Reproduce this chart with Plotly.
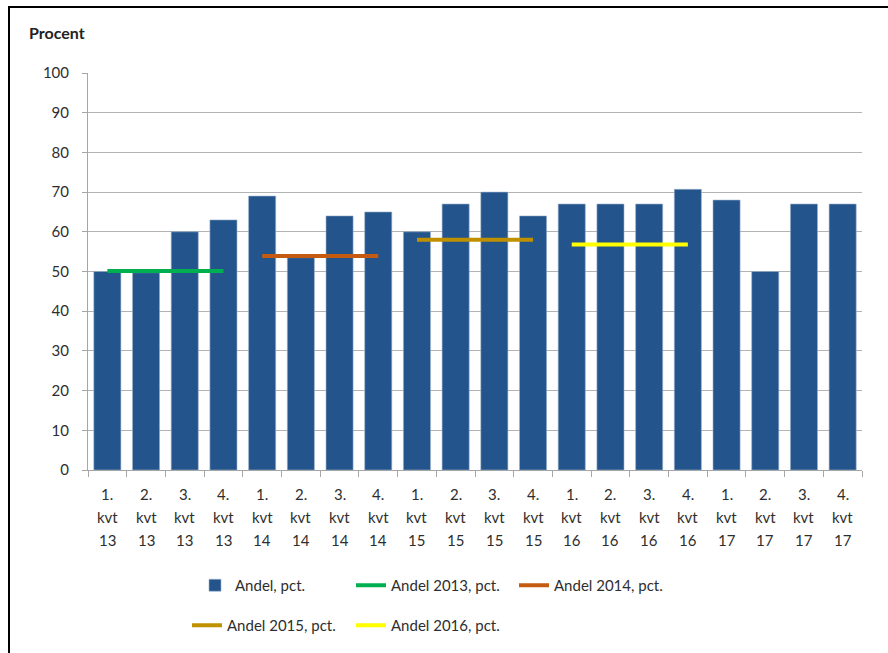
import plotly.graph_objects as go

quarters = ["1.", "2.", "3.", "4."] * 5
years = ["13"] * 4 + ["14"] * 4 + ["15"] * 4 + ["16"] * 4 + ["17"] * 4
categories = [f"{q} kvt {y}" for q, y in zip(quarters, years)]

andel = [50, 49.7, 60, 63, 69, 53.5, 64, 65, 60, 67, 70, 64, 67, 67, 67, 70.7, 68, 50, 67, 67]

avg_2013 = 50.1
avg_2014 = 53.9
avg_2015 = 58.0
avg_2016 = 56.8

W, H = 888, 653
ML, MR, MT, MB = 88, 26, 73, 183
PW, PH = W - ML - MR, H - MT - MB


def px_x(p):
    return (p - ML) / PW


def px_y(p):
    return (H - MB - p) / PH


FONT = "Lato, 'Open Sans', sans-serif"
TXT = "#2e2e2e"

fig = go.Figure()
fig.add_trace(go.Bar(
    x=categories, y=andel, name="Andel, pct.",
    marker=dict(color="#23548C", line=dict(color="#9db3cf", width=0.6)),
    width=0.7, legend="legend",
))

line_specs = [
    ("Andel 2013, pct.", categories[0:4], avg_2013, "#00B050", "legend2"),
    ("Andel 2014, pct.", categories[4:8], avg_2014, "#C55A11", "legend3"),
    ("Andel 2015, pct.", categories[8:12], avg_2015, "#BF9000", "legend4"),
    ("Andel 2016, pct.", categories[12:16], avg_2016, "#FFFF00", "legend5"),
]
for name, xs, val, col, leg in line_specs:
    fig.add_trace(go.Scatter(
        x=xs, y=[val] * len(xs), name=name, mode="lines",
        line=dict(color=col, width=4), legend=leg,
    ))


def legend_at(text_x, row_y):
    return dict(orientation="h", xref="container", yref="container",
                x=(text_x - 41) / W, y=1 - row_y / H, xanchor="left", yanchor="top",
                font=dict(size=15, color=TXT, family=FONT), bgcolor="rgba(0,0,0,0)")


# x tick labels as three text rows under each category
label_rows = [(quarters, 494), (["kvt"] * 20, 517), (years, 540)]
annotations = []
for texts, ypix in label_rows:
    for c, t in zip(categories, texts):
        annotations.append(dict(
            text=t, x=c, xref="x", y=px_y(ypix), yref="paper",
            xanchor="center", yanchor="middle", showarrow=False,
            font=dict(size=15, color=TXT, family=FONT),
        ))
annotations.append(dict(
    text="<b>Procent</b>", xref="paper", yref="paper",
    x=px_x(27), y=px_y(33), xanchor="left", yanchor="middle",
    showarrow=False, font=dict(size=16, color="#222222", family=FONT),
))

fig.update_layout(
    width=W, height=H,
    margin=dict(l=ML, r=MR, t=MT, b=MB, autoexpand=False),
    paper_bgcolor="white", plot_bgcolor="white",
    font=dict(family=FONT, size=15, color=TXT),
    showlegend=True,
    legend=legend_at(236, 569),
    legend2=legend_at(392, 569),
    legend3=legend_at(555, 569),
    legend4=legend_at(228, 609),
    legend5=legend_at(392, 609),
    bargap=0.3,
    xaxis=dict(
        type="category", categoryorder="array", categoryarray=categories,
        showticklabels=False,
        showgrid=False, showline=True, linecolor="#a6a6a6", linewidth=1,
        ticks="outside", tickson="boundaries", ticklen=6, tickcolor="#a6a6a6",
        range=[-0.5, 19.5],
    ),
    yaxis=dict(
        range=[0, 100], dtick=10, tick0=0,
        showgrid=True, gridcolor="#b3b3b3", gridwidth=1,
        showline=True, linecolor="#a6a6a6", linewidth=1,
        ticks="outside", ticklen=5, tickcolor="#a6a6a6", ticklabelstandoff=10,
        tickfont=dict(size=15, color=TXT), zeroline=False,
    ),
    annotations=annotations,
    shapes=[dict(
        type="rect", xref="paper", yref="paper",
        x0=px_x(9), x1=px_x(900), y0=px_y(7), y1=px_y(700),
        line=dict(color="black", width=2), fillcolor="rgba(0,0,0,0)", layer="below",
    )],
)

fig.write_html(
    "out.html",
    config={"displayModeBar": False},
    post_script="document.body.style.margin='0';document.body.style.overflow='hidden';",
)
